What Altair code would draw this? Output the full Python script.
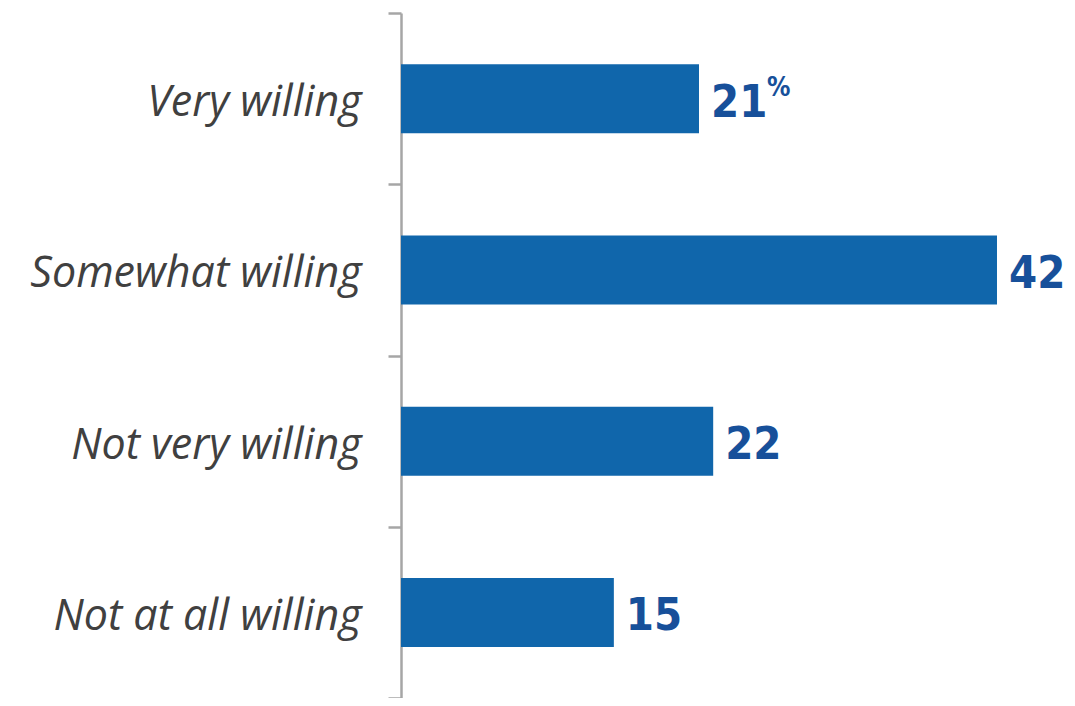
import altair as alt
import pandas as pd

categories = ["Very willing", "Somewhat willing", "Not very willing", "Not at all willing"]
values = [21, 42, 22, 15]
value_labels = ["21", "42", "22", "15"]
suffix = ["%", "", "", ""]

df = pd.DataFrame({"cat": categories, "val": values, "lab": value_labels, "suf": suffix})

BAR = "#1066AB"
LAB = "#17509A"
NUMFONT = "DejaVu Sans Condensed"

y = alt.Y("cat:N", sort=categories, title=None,
          scale=alt.Scale(paddingInner=0, paddingOuter=0),
          axis=alt.Axis(tickBand="extent", tickSize=13, tickWidth=2.5, tickColor="#A6A6A6",
                        domainColor="#A6A6A6", domainWidth=2.5, labelPadding=27,
                        labelFont="Open Sans", labelFontStyle="italic", labelFontSize=43,
                        labelOffset=4, labelColor="#404040", labelLimit=0))
x = alt.X("val:Q", scale=alt.Scale(domain=[0, 46.44], nice=False, zero=True), axis=None)

bars = alt.Chart(df).mark_bar(size=69, color=BAR).encode(x=x, y=y)
text = alt.Chart(df).mark_text(align="left", baseline="middle", dx=12, dy=4,
                               font=NUMFONT, fontWeight="bold",
                               fontSize=45, color=LAB).encode(x=x, y=y, text="lab:N")
pct = alt.Chart(df).mark_text(align="left", baseline="middle", dx=68, dy=-11,
                              font=NUMFONT, fontWeight="bold",
                              fontSize=26, color=LAB).encode(x=x, y=y, text="suf:N")

chart = (bars + text + pct).properties(
    width=659, height=685,
    autosize=alt.AutoSizeParams(type="none"),
    padding={"left": 393, "top": 5, "right": 7, "bottom": 0},
).configure_view(stroke=None)

chart.save("out.html", embed_options={"renderer": "svg", "actions": False})
